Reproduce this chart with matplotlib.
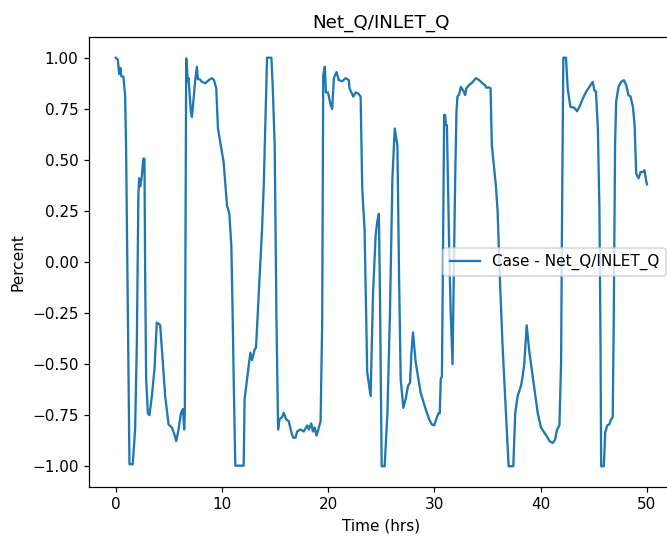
import matplotlib
matplotlib.use('Agg')
import matplotlib.pyplot as plt

# time in hours, ratio Net_Q/INLET_Q
time_hrs = [0.0, 0.2, 0.3, 0.34, 0.45, 0.52, 0.72, 0.88, 0.97, 1.1, 1.29, 1.6, 1.82, 1.98, 2.13,
            2.2, 2.32, 2.45, 2.6, 2.7, 2.77, 2.86, 3.02, 3.17, 3.4, 3.65, 3.86, 4.0, 4.18, 4.43,
            4.65, 4.97, 5.28, 5.5, 5.69, 5.91, 6.13, 6.32, 6.44, 6.5, 6.63, 6.7, 6.76, 6.85,
            7.07, 7.17, 7.33, 7.49, 7.64, 7.73, 7.9, 8.11, 8.43, 8.74, 9.06, 9.25, 9.46, 9.62,
            10.15, 10.47, 10.69, 10.88, 11.0, 11.1, 11.25, 12.04, 12.13, 12.36, 12.67, 12.83,
            13.08, 13.2, 13.45, 13.77, 13.93, 14.24, 14.65, 14.78, 14.96, 15.12, 15.28, 15.41,
            15.65, 15.81, 16.04, 16.29, 16.54, 16.7, 16.92, 17.07, 17.39, 17.7, 18.02, 18.18,
            18.4, 18.56, 18.72, 18.9, 19.12, 19.28, 19.43, 19.53, 19.68, 19.78, 19.98, 20.22,
            20.37, 20.53, 20.78, 21.0, 21.32, 21.63, 21.94, 22.0, 22.36, 22.58, 22.82, 23.05,
            23.2, 23.42, 23.67, 23.99, 24.21, 24.46, 24.62, 24.77, 24.87, 25.03, 25.31, 25.57,
            25.81, 26.04, 26.26, 26.51, 26.67, 26.82, 27.07, 27.29, 27.51, 27.7, 27.83, 27.98,
            28.23, 28.7, 29.17, 29.5, 29.75, 29.97, 30.13, 30.38, 30.5, 30.59, 30.7, 30.78,
            30.91, 31.0, 31.08, 31.17, 31.38, 31.53, 31.7, 31.86, 31.95, 32.07, 32.16, 32.32,
            32.48, 32.7, 32.89, 33.0, 33.26, 33.58, 33.9, 34.22, 34.53, 34.78, 34.88, 35.1,
            35.28, 35.4, 35.78, 35.94, 36.16, 36.41, 36.73, 36.98, 37.42, 37.6, 37.83, 38.14,
            38.3, 38.45, 38.68, 38.93, 39.3, 39.72, 40.03, 40.35, 40.66, 40.82, 41.13, 41.35,
            41.54, 41.76, 41.92, 42.01, 42.13, 42.38, 42.54, 42.79, 43.17, 43.42, 43.65, 43.96,
            44.27, 44.58, 44.9, 45.05, 45.2, 45.38, 45.53, 45.63, 45.69, 45.94, 46.07, 46.26,
            46.45, 46.63, 46.78, 46.88, 47.0, 47.1, 47.32, 47.58, 47.83, 48.05, 48.26, 48.45,
            48.68, 48.84, 48.99, 49.21, 49.4, 49.6, 49.77, 49.92, 50.0]
net_ratio = [1.0, 0.99, 0.93, 0.92, 0.95, 0.91, 0.907, 0.817, 0.57, -0.08, -0.99, -0.99, -0.82,
             -0.41, 0.33, 0.41, 0.37, 0.42, 0.506, 0.506, -0.08, -0.57, -0.74, -0.75, -0.656,
             -0.52, -0.297, -0.3, -0.31, -0.49, -0.656, -0.795, -0.81, -0.84, -0.877, -0.82,
             -0.74, -0.72, -0.82, -0.74, 0.997, 0.96, 0.885, 0.9, 0.735, 0.71, 0.8, 0.895, 0.956,
             0.895, 0.895, 0.882, 0.875, 0.89, 0.9, 0.89, 0.85, 0.653, 0.49, 0.277, 0.237, 0.08,
             -0.25, -0.574, -0.997, -0.997, -0.67, -0.574, -0.444, -0.48, -0.427, -0.42, -0.165,
             0.162, 0.375, 1.0, 1.0, 0.85, 0.57, -0.247, -0.82, -0.77, -0.76, -0.738, -0.77,
             -0.78, -0.836, -0.86, -0.86, -0.83, -0.82, -0.83, -0.8, -0.82, -0.79, -0.83, -0.81,
             -0.85, -0.81, -0.78, -0.3, 0.915, 0.956, 0.83, 0.83, 0.77, 0.75, 0.9, 0.93, 0.89,
             0.885, 0.9, 0.89, 0.85, 0.81, 0.83, 0.825, 0.81, 0.36, 0.16, -0.54, -0.656, -0.165,
             0.13, 0.2, 0.236, -0.165, -1.0, -1.0, -0.74, -0.25, 0.41, 0.653, 0.57, -0.08,
             -0.574, -0.714, -0.67, -0.607, -0.59, -0.444, -0.345, -0.49, -0.64, -0.72, -0.77,
             -0.795, -0.8, -0.775, -0.74, -0.74, -0.574, -0.56, -0.1, 0.72, 0.72, 0.67, 0.67,
             0.08, -0.25, -0.5, 0.08, 0.41, 0.735, 0.81, 0.82, 0.857, 0.84, 0.817, 0.85, 0.866,
             0.88, 0.9, 0.89, 0.874, 0.865, 0.853, 0.855, 0.85, 0.57, 0.375, 0.25, -0.083, -0.41,
             -0.74, -1.0, -1.0, -0.74, -0.656, -0.607, -0.56, -0.5, -0.31, -0.44, -0.58, -0.74,
             -0.81, -0.836, -0.86, -0.877, -0.886, -0.87, -0.82, -0.8, -0.49, 0.244, 1.0, 1.0,
             0.85, 0.76, 0.755, 0.738, 0.76, 0.8, 0.833, 0.857, 0.882, 0.84, 0.835, 0.653, 0.25,
             -0.41, -1.0, -1.0, -0.836, -0.8, -0.795, -0.77, -0.76, -0.25, 0.57, 0.784, 0.857,
             0.882, 0.89, 0.866, 0.817, 0.81, 0.76, 0.67, 0.432, 0.41, 0.44, 0.44, 0.449, 0.4,
             0.38]

# original seems rendered at ~110 dpi, so fonts and lines come out a bit bigger
fig = plt.figure(figsize=(667 / 110, 540 / 110), dpi=110)
# axes runs a bit past the right edge, like the cropped original
ax = fig.add_axes([89.2 / 667, 53.3 / 540, 584.3 / 667, 449.4 / 540])
ax.plot(time_hrs, net_ratio, label='Case - Net_Q/INLET_Q')
ax.set_title('Net_Q/INLET_Q')
ax.set_xlabel('Time (hrs)')
ax.set_ylabel('Percent')
ax.legend(loc='center right')

plt.savefig('out.png', dpi=110)
